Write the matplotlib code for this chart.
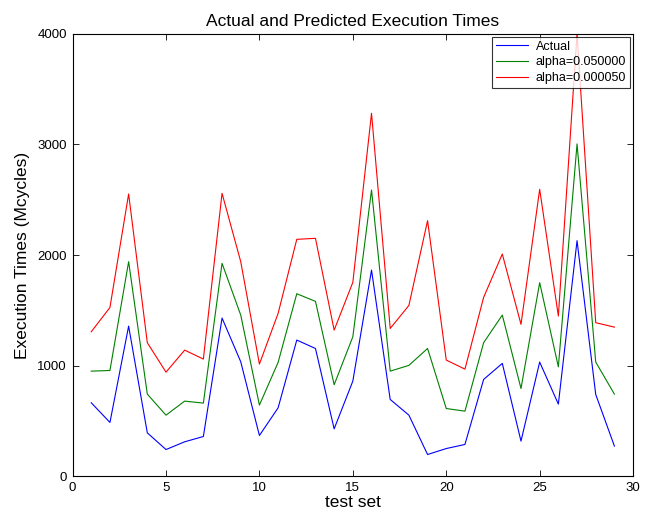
"""Actual vs predicted execution times, redrawn from a MATLAB figure."""
import matplotlib
matplotlib.use("Agg")
import matplotlib.pyplot as plt

plt.rcParams["font.family"] = ["Liberation Sans", "DejaVu Sans"]

test_set = list(range(1, 30))
actual = [664, 486, 1357, 392, 241, 311, 359, 1430, 1035, 368,
          618, 1231, 1155, 428, 860, 1864, 694, 552, 196, 250,
          287, 875, 1020, 317, 1032, 652, 2130, 739, 272]
alpha_05 = [950, 956, 1940, 742, 552, 679, 661, 1925, 1457, 643,
            1029, 1650, 1581, 827, 1261, 2588, 950, 1002, 1155, 612,
            588, 1207, 1457, 793, 1750, 989, 3005, 1032, 742]
alpha_00005 = [1306, 1526, 2552, 1207, 941, 1140, 1059, 2558, 1940, 1014,
               1472, 2142, 2151, 1321, 1753, 3282, 1336, 1544, 2311, 1050,
               968, 1617, 2009, 1373, 2594, 1448, 4000, 1388, 1348]

fig = plt.figure(figsize=(6.48, 5.21), dpi=100)
ax = fig.add_axes([0.112, 0.086, 0.865, 0.849])

ax.plot(test_set, actual, color="#0000ff", lw=0.8, label="Actual")
ax.plot(test_set, alpha_05, color="#008000", lw=0.8, label="alpha=0.050000")
ax.plot(test_set, alpha_00005, color="#ff0000", lw=0.8, label="alpha=0.000050")

ax.set_xlim(0, 30)
ax.set_ylim(0, 4000)
ax.set_xticks(range(0, 31, 5))
ax.set_yticks(range(0, 4001, 1000))
ax.tick_params(direction="in", top=True, right=True, labelsize=9.5,
               length=4, width=0.6, pad=4)
for s in ax.spines.values():
    s.set_linewidth(0.8)

ax.set_title("Actual and Predicted Execution Times", fontsize=12.5, pad=6)
ax.set_xlabel("test set", fontsize=12.5, labelpad=1)
ax.set_ylabel("Execution Times (Mcycles)", fontsize=12.5, labelpad=5)

leg = ax.legend(loc="upper right", fontsize=9, frameon=True, fancybox=False,
                borderaxespad=0.25, handlelength=2.6, handletextpad=0.6,
                borderpad=0.3, labelspacing=0.3)
leg.get_frame().set_edgecolor("black")
leg.get_frame().set_linewidth(0.8)

fig.savefig("out.png", dpi=100, facecolor="white")
